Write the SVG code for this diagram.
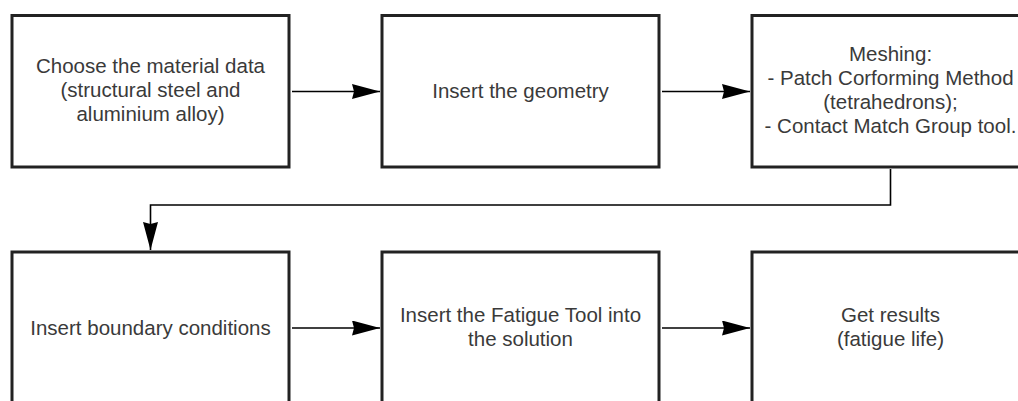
<svg xmlns="http://www.w3.org/2000/svg" width="1018" height="401" viewBox="0 0 1018 401">
<defs>
<style>
.box{fill:#fff;stroke:#222;stroke-width:3}
.lbl{font-family:"Liberation Sans",Arial,sans-serif;font-size:20.5px;fill:#3a3a3a;text-anchor:middle}
.con{fill:none;stroke:#000;stroke-width:1.6}
</style>
<marker id="ah" viewBox="0 0 28 15" refX="28" refY="7.5" markerWidth="28" markerHeight="15" markerUnits="userSpaceOnUse" orient="auto">
<path d="M0,0 L28,7.5 L0,15 L2,7.5 Z" fill="#000"/>
</marker>
</defs>
<rect width="1018" height="401" fill="#fff"/>
<g id="n1"><rect class="box" x="12" y="15.5" width="277" height="151.5"/>
<text class="lbl" x="150.5" y="72.5">Choose the material data</text>
<text class="lbl" x="150.5" y="96.5">(structural steel and</text>
<text class="lbl" x="150.5" y="120.5">aluminium alloy)</text></g>
<g id="n2"><rect class="box" x="382" y="15.5" width="277" height="151.5"/>
<text class="lbl" x="520.5" y="98">Insert the geometry</text></g>
<g id="n3"><rect class="box" x="752" y="15.5" width="277" height="151.5"/>
<text class="lbl" x="890.5" y="61">Meshing:</text>
<text class="lbl" x="890.5" y="85">- Patch Corforming Method</text>
<text class="lbl" x="890.5" y="109">(tetrahedrons);</text>
<text class="lbl" x="890.5" y="133">- Contact Match Group tool.</text></g>
<g id="n4"><rect class="box" x="12" y="252" width="277" height="152"/>
<text class="lbl" x="150.5" y="335">Insert boundary conditions</text></g>
<g id="n5"><rect class="box" x="382" y="252" width="277" height="152"/>
<text class="lbl" x="520.5" y="322">Insert the Fatigue Tool into</text>
<text class="lbl" x="520.5" y="346">the solution</text></g>
<g id="n6"><rect class="box" x="752" y="252" width="277" height="152"/>
<text class="lbl" x="890.5" y="322">Get results</text>
<text class="lbl" x="890.5" y="346">(fatigue life)</text></g>
<g id="connectors">
<line class="con" x1="292" y1="91.5" x2="380" y2="91.5" marker-end="url(#ah)"/>
<line class="con" x1="662" y1="91.5" x2="750" y2="91.5" marker-end="url(#ah)"/>
<polyline class="con" points="890.5,169 890.5,205 150.5,205 150.5,250" marker-end="url(#ah)"/>
<line class="con" x1="292" y1="328" x2="380" y2="328" marker-end="url(#ah)"/>
<line class="con" x1="662" y1="328" x2="750" y2="328" marker-end="url(#ah)"/>
</g>
</svg>
